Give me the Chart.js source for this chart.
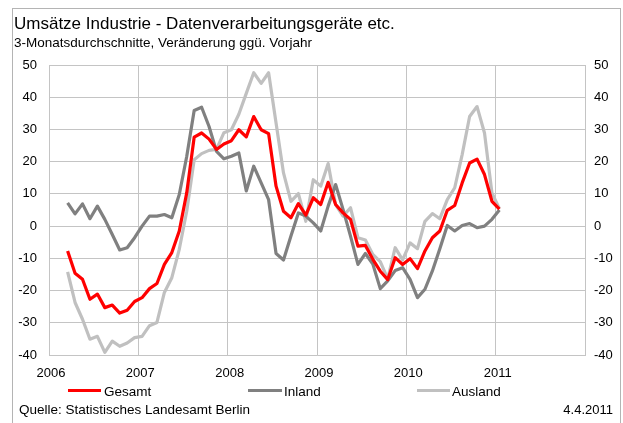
<!DOCTYPE html>
<html>
<head>
<meta charset="utf-8">
<script src="https://cdn.jsdelivr.net/npm/chart.js@4.4.1/dist/chart.umd.min.js"></script>
<style>
  body { margin: 0; background: #fff; }
  #wrap { position: relative; width: 623px; height: 423px; overflow: hidden; font-family: "Liberation Sans", Arial, sans-serif; color: #000; }
  #frame { position: absolute; left: 12px; top: 8px; width: 607px; height: 430px; border: 1px solid #b4b4b4; }
  #chart { position: absolute; left: 0; top: 0; }
  .txt { position: absolute; white-space: nowrap; line-height: 1; }
  .key { position: absolute; height: 3px; }
</style>
</head>
<body>
<div id="wrap">
  <div id="frame"></div>
  <canvas id="chart" width="623" height="423"></canvas>
  <div class="txt" style="left:14px; top:15px; font-size:17px;">Umsätze Industrie - Datenverarbeitungsgeräte etc.</div>
  <div class="txt" style="left:14px; top:36px; font-size:13.5px;">3-Monatsdurchschnitte, Veränderung ggü. Vorjahr</div>

  <!-- legend -->
  <div class="key" style="left:68px; top:389px; width:33px; background:#ff0000;"></div>
  <div class="txt" style="left:104px; top:385px; font-size:13.5px;">Gesamt</div>
  <div class="key" style="left:248px; top:389px; width:34px; background:#808080;"></div>
  <div class="txt" style="left:284px; top:385px; font-size:13.5px;">Inland</div>
  <div class="key" style="left:417px; top:389px; width:33px; background:#c0c0c0;"></div>
  <div class="txt" style="left:452px; top:385px; font-size:13.5px;">Ausland</div>

  <div class="txt" style="left:19px; top:403px; font-size:13.5px;">Quelle: Statistisches Landesamt Berlin</div>
  <div class="txt" style="right:10px; top:403px; font-size:13px;">4.4.2011</div>
</div>

<script>
  // first month of the 3-month averages, one value per month after that
  const firstYear = 2006;
  const firstMonth = 3; // March

  const yearTicks = [2006, 2007, 2008, 2009, 2010, 2011];

  const gesamt = [
    -7.7, -14.6, -16.5, -22.7, -21.1, -25.3, -24.5, -27.0, -26.1, -23.4,
    -22.2, -19.4, -17.8, -11.9, -8.2, -1.5, 10.3, 27.6, 28.9, 27.0,
    23.8, 25.5, 26.5, 29.9, 27.7, 34.0, 29.9, 28.7, 12.4, 4.6,
    2.6, 7.0, 3.4, 8.8, 6.7, 13.6, 6.7, 4.1, 2.1, -6.2,
    -6.0, -10.3, -14.0, -16.6, -9.8, -11.9, -10.1, -13.2, -7.7, -3.6,
    -1.5, 4.9, 6.4, 13.4, 19.6, 20.8, 16.0, 7.7, 5.3
  ];

  const inland = [
    7.2, 3.8, 6.9, 2.3, 6.2, 2.1, -2.6, -7.4, -6.7, -3.6,
    0.0, 3.1, 3.1, 3.6, 2.6, 9.8, 21.6, 35.9, 36.9, 30.9,
    23.2, 20.9, 21.7, 22.7, 10.9, 18.6, 13.4, 8.2, -8.5, -10.5,
    -3.1, 4.1, 3.1, 1.0, -1.5, 6.2, 12.9, 5.2, -3.1, -11.9,
    -8.5, -11.8, -19.4, -17.0, -13.8, -12.9, -16.5, -22.2, -19.6, -13.9,
    -7.0, 0.2, -1.5, 0.2, 0.8, -0.5, 0.0, 2.1, 5.0
  ];

  const ausland = [
    -14.2, -23.7, -28.9, -35.1, -34.2, -39.2, -35.7, -37.3, -36.3, -34.6,
    -34.2, -30.9, -29.9, -20.6, -16.0, -7.2, 4.6, 20.6, 22.5, 23.5,
    23.8, 29.0, 29.9, 34.7, 41.2, 47.6, 44.3, 47.6, 32.0, 16.5,
    7.7, 10.1, 1.5, 14.4, 12.4, 19.4, 6.7, 3.1, 5.7, -3.6,
    -4.3, -8.8, -11.0, -16.4, -6.7, -10.5, -5.2, -7.0, 1.5, 3.9,
    2.3, 8.2, 11.9, 22.2, 34.0, 37.1, 28.9, 10.3, 5.4
  ];

  const gridColor = "#c4c4c4";
  const font = { family: "'Liberation Sans', Arial, sans-serif", size: 13 };

  // month index -> decimal year, point sits in the middle of its month
  function toPoints(values) {
    return values.map((v, i) => {
      const m = firstMonth - 1 + i;
      return { x: firstYear + (m + 0.5) / 12, y: v };
    });
  }

  const ctx = document.getElementById("chart").getContext("2d");

  new Chart(ctx, {
    type: "line",
    data: {
      datasets: [
        { label: "Gesamt", data: toPoints(gesamt), borderColor: "#ff0000", borderWidth: 3.2 },
        { label: "Inland", data: toPoints(inland), borderColor: "#808080", borderWidth: 3.2 },
        { label: "Ausland", data: toPoints(ausland), borderColor: "#c0c0c0", borderWidth: 3.2 }
      ]
    },
    options: {
      responsive: false,
      animation: false,
      devicePixelRatio: 1,
      elements: { point: { radius: 0 }, line: { tension: 0, borderJoinStyle: "round" } },
      layout: { padding: { top: 65, left: 0, right: 0, bottom: 0 } },
      plugins: { legend: { display: false }, tooltip: { enabled: false } },
      scales: {
        x: {
          type: "linear",
          min: 2006,
          max: 2012,
          afterFit: (s) => { s.height = 68; },
          afterBuildTicks: (s) => { s.ticks = yearTicks.concat([2012]).map((v) => ({ value: v })); },
          ticks: {
            color: "#000",
            font: font,
            padding: 11,
            labelOffset: 2,
            maxRotation: 0,
            autoSkip: false,
            callback: (v) => (yearTicks.includes(v) ? String(v) : "")
          },
          grid: { color: gridColor, drawTicks: false },
          border: { color: gridColor }
        },
        y: {
          position: "left",
          min: -40,
          max: 50,
          afterFit: (s) => { s.width = 49; },
          ticks: { stepSize: 10, color: "#000", font: font, padding: 12 },
          grid: { color: gridColor, drawTicks: false },
          border: { color: gridColor }
        },
        y2: {
          position: "right",
          min: -40,
          max: 50,
          afterFit: (s) => { s.width = 38; },
          ticks: { stepSize: 10, color: "#000", font: font, padding: 9 },
          grid: { display: false, drawTicks: false },
          border: { color: gridColor }
        }
      }
    }
  });
</script>
</body>
</html>
